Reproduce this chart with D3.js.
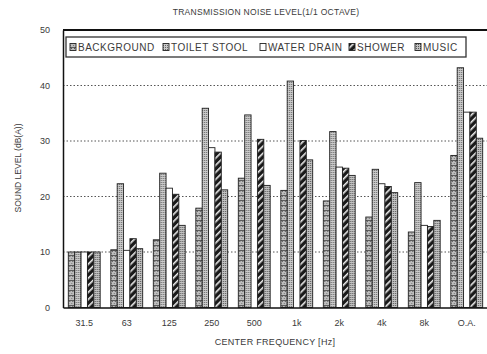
<!DOCTYPE html>
<html>
<head>
<meta charset="utf-8">
<script src="https://cdn.jsdelivr.net/npm/d3@7"></script>
<style>
  html, body { margin: 0; padding: 0; background: #fff; }
  text { font-family: "Liberation Sans", Arial, sans-serif; fill: #3a3a3a; }
</style>
</head>
<body>
<div id="vis-div"></div>
<script>
// values (dB(A))
var categories = ["31.5", "63", "125", "250", "500", "1k", "2k", "4k", "8k", "O.A."];
var seriesNames = ["BACKGROUND", "TOILET STOOL", "WATER DRAIN", "SHOWER", "MUSIC"];
var background = [10, 10.4, 12.2, 17.9, 23.3, 21.1, 19.2, 16.3, 13.6, 27.4];
var toiletStool = [10, 22.3, 24.2, 35.9, 34.7, 40.8, 31.7, 24.9, 22.5, 43.2];
var waterDrain = [10, 10.3, 21.5, 28.8, 0, 0, 25.3, 22.3, 14.8, 35.2];
var shower = [10, 12.4, 20.4, 28.0, 30.3, 30.1, 25.1, 21.8, 14.6, 35.2];
var music = [10, 10.6, 14.8, 21.2, 22.0, 26.6, 23.8, 20.7, 15.7, 30.5];
var yTicks = [0, 10, 20, 30, 40, 50];

var values = [background, toiletStool, waterDrain, shower, music];
var fills = ["url(#pBg)", "url(#pDots)", "#fff", "url(#pHatch)", "url(#pDots2)"];

var width = 487;
var height = 354;
var plotLeft = 63, plotRight = 488, plotTop = 30, plotBottom = 307.5;

var svg = d3.select("#vis-div").append("svg")
    .attr("width", width).attr("height", height);

// patterns that imitate the printed fills
var defs = svg.append("defs");
var pBg = defs.append("pattern").attr("id", "pBg")
    .attr("patternUnits", "userSpaceOnUse").attr("width", 3).attr("height", 5);
pBg.append("rect").attr("width", 3).attr("height", 5).attr("fill", "#bdbdbd");
pBg.append("rect").attr("x", 1).attr("y", 1).attr("width", 1).attr("height", 1).attr("fill", "#555");
pBg.append("rect").attr("x", 0).attr("y", 3).attr("width", 1).attr("height", 1).attr("fill", "#777");
pBg.append("rect").attr("x", 0).attr("y", 0).attr("width", 3).attr("height", 0.8).attr("fill", "#444");

var pDots = defs.append("pattern").attr("id", "pDots")
    .attr("patternUnits", "userSpaceOnUse").attr("width", 2).attr("height", 2);
pDots.append("rect").attr("width", 2).attr("height", 2).attr("fill", "#cacaca");
pDots.append("rect").attr("width", 1).attr("height", 1).attr("fill", "#666");

var pDots2 = defs.append("pattern").attr("id", "pDots2")
    .attr("patternUnits", "userSpaceOnUse").attr("width", 2).attr("height", 2);
pDots2.append("rect").attr("width", 2).attr("height", 2).attr("fill", "#c2c2c2");
pDots2.append("rect").attr("x", 1).attr("y", 1).attr("width", 1).attr("height", 1).attr("fill", "#555");

var pHatch = defs.append("pattern").attr("id", "pHatch")
    .attr("patternUnits", "userSpaceOnUse").attr("width", 5).attr("height", 5)
    .attr("patternTransform", "rotate(45)");
pHatch.append("rect").attr("width", 5).attr("height", 5).attr("fill", "#1a1a1a");
pHatch.append("rect").attr("x", 0).attr("y", 0).attr("width", 1.6).attr("height", 5).attr("fill", "#eee");

var x0 = d3.scaleBand()
    .domain(categories)
    .range([plotLeft, plotRight])
    .paddingInner(0.25)
    .paddingOuter(0.125);

var x1 = d3.scaleBand()
    .domain(seriesNames)
    .range([0, x0.bandwidth()]);

var y = d3.scaleLinear()
    .domain([0, 50])
    .range([plotBottom, plotTop]);

// title
svg.append("text")
    .attr("x", 266).attr("y", 15)
    .attr("text-anchor", "middle")
    .attr("font-size", 8.5)
    .attr("letter-spacing", 0.3)
    .text("TRANSMISSION NOISE LEVEL(1/1 OCTAVE)");

// dotted grid
svg.append("g")
    .selectAll("line").data(yTicks.filter(d => d > 0 && d < 50)).enter().append("line")
    .attr("x1", plotLeft).attr("x2", plotRight)
    .attr("y1", d => y(d)).attr("y2", d => y(d))
    .attr("stroke", "#555")
    .attr("stroke-width", 1)
    .attr("stroke-dasharray", "1.5,2");

// bars
var groups = svg.append("g")
    .selectAll("g").data(categories).enter().append("g")
    .attr("transform", d => `translate(${x0(d)},0)`);

groups.selectAll("rect")
    .data((c, i) => seriesNames.map((s, j) => ({ s: s, j: j, v: values[j][i] })).filter(d => d.v > 0))
    .enter().append("rect")
    .attr("x", d => x1(d.s))
    .attr("y", d => y(d.v))
    .attr("width", x1.bandwidth())
    .attr("height", d => y(0) - y(d.v))
    .attr("fill", d => fills[d.j])
    .attr("stroke", "#222")
    .attr("stroke-width", 0.9);

// frame: left axis, top border, baseline
var yAxis = g => g
    .attr("transform", `translate(${plotLeft},0)`)
    .call(d3.axisLeft(y).tickValues(yTicks).tickSize(0).tickPadding(13))
    .call(g => g.select(".domain").attr("stroke", "#111").attr("stroke-width", 1.5))
    .call(g => g.selectAll("text").attr("font-size", 9).attr("fill", "#3a3a3a")
        .style("font-family", "Liberation Sans, Arial, sans-serif"));

svg.append("g").call(yAxis);

svg.append("line")
    .attr("x1", plotLeft).attr("x2", plotRight)
    .attr("y1", plotTop).attr("y2", plotTop)
    .attr("stroke", "#111").attr("stroke-width", 2);

var xAxis = g => g
    .attr("transform", `translate(0,${plotBottom})`)
    .call(d3.axisBottom(x0).tickSize(0).tickPadding(12))
    .call(g => g.select(".domain").attr("stroke", "#111").attr("stroke-width", 1.5))
    .call(g => g.selectAll("text").attr("font-size", 9).attr("fill", "#3a3a3a")
        .style("font-family", "Liberation Sans, Arial, sans-serif"));

svg.append("g").call(xAxis);

// axis titles
svg.append("text")
    .attr("transform", "translate(21,168) rotate(-90)")
    .attr("text-anchor", "middle")
    .attr("font-size", 8.5)
    .text("SOUND LEVEL (dB(A))");

svg.append("text")
    .attr("x", 275).attr("y", 345)
    .attr("text-anchor", "middle")
    .attr("font-size", 9)
    .attr("letter-spacing", 0.3)
    .text("CENTER FREQUENCY [Hz]");

// legend box
var legendX = [70, 163, 260, 349, 415];
var legend = svg.append("g");
legend.append("rect")
    .attr("x", 66).attr("y", 37).attr("width", 400).attr("height", 20)
    .attr("fill", "#fff").attr("stroke", "#333").attr("stroke-width", 1.3);

var items = legend.selectAll("g").data(seriesNames).enter().append("g")
    .attr("transform", (d, i) => `translate(${legendX[i]},47)`);
items.append("rect")
    .attr("x", 0).attr("y", -3.5).attr("width", 6).attr("height", 7)
    .attr("fill", (d, i) => fills[i])
    .attr("stroke", "#222").attr("stroke-width", 0.9);
items.append("text")
    .attr("x", 8).attr("y", 3.5)
    .attr("font-size", 10)
    .attr("letter-spacing", 0.5)
    .text(d => d);
</script>
</body>
</html>
